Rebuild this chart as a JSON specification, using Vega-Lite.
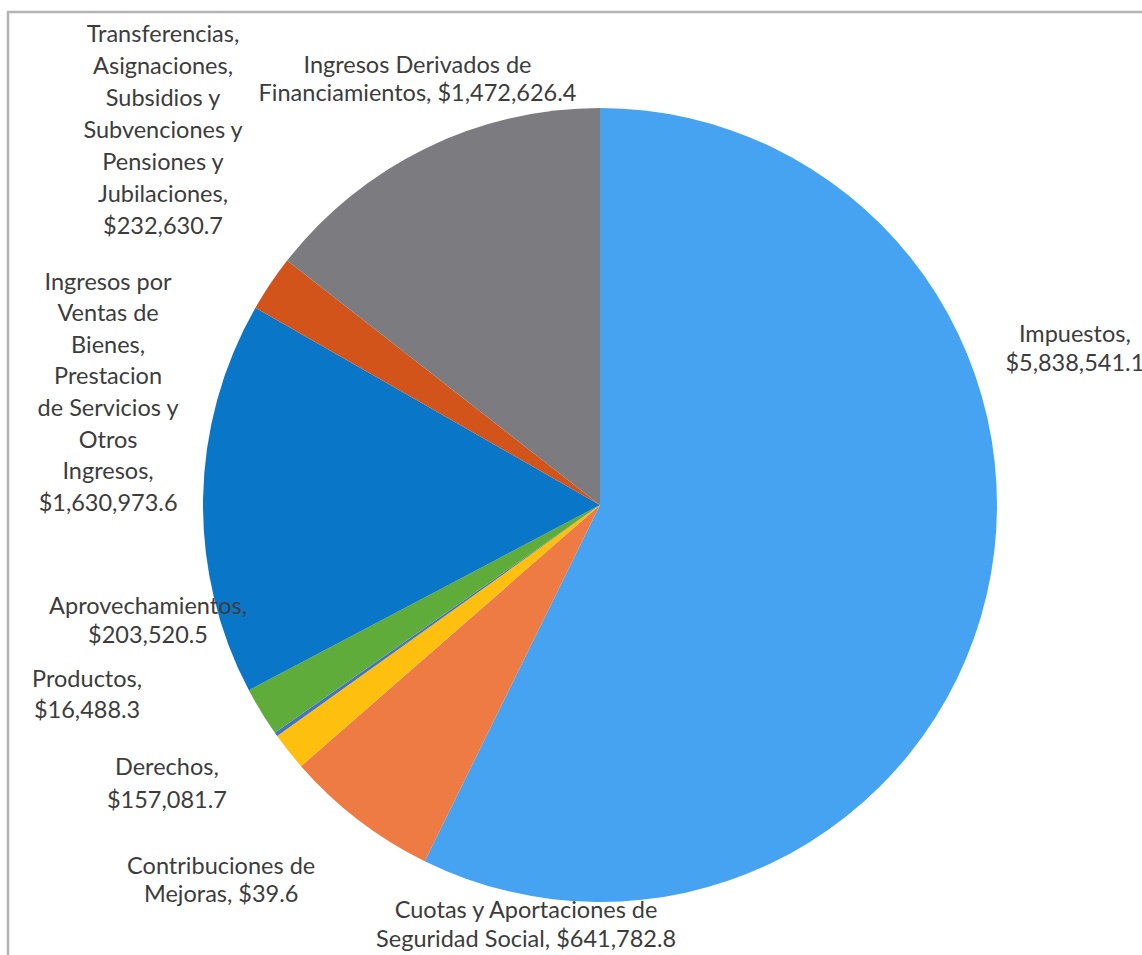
{
  "$schema": "https://vega.github.io/schema/vega-lite/v6.json",
  "autosize": "none",
  "width": 1184,
  "height": 986,
  "padding": {"left": 8, "top": 12, "right": 0, "bottom": 0},
  "background": "white",
  "view": {"stroke": "#b4b4b4", "strokeWidth": 2.5},
  "config": {
    "view": {"stroke": "#b4b4b4", "strokeWidth": 2.5},
    "text": {"font": "Lato", "fontSize": 23.5, "lineHeight": 29, "lineBreak": "\n", "fill": "#3c3c3c", "align": "center", "baseline": "middle"}
  },
  "data": {
    "values": [
      {"n": 1, "cat": "Impuestos", "value": 5838541.1, "label": "Impuestos,\n$5,838,541.1"},
      {"n": 2, "cat": "Cuotas y Aportaciones de Seguridad Social", "value": 641782.8, "label": "Cuotas y Aportaciones de\nSeguridad Social, $641,782.8"},
      {"n": 3, "cat": "Contribuciones de Mejoras", "value": 39.6, "label": "Contribuciones de\nMejoras, $39.6"},
      {"n": 4, "cat": "Derechos", "value": 157081.7, "label": "Derechos,\n$157,081.7"},
      {"n": 5, "cat": "Productos", "value": 16488.3, "label": "Productos,\n$16,488.3"},
      {"n": 6, "cat": "Aprovechamientos", "value": 203520.5, "label": "Aprovechamientos,\n$203,520.5"},
      {"n": 7, "cat": "Ingresos por Ventas de Bienes, Prestacion de Servicios y Otros Ingresos", "value": 1630973.6, "label": "Ingresos por\nVentas de\nBienes,\nPrestacion\nde Servicios y\nOtros\nIngresos,\n$1,630,973.6"},
      {"n": 8, "cat": "Transferencias, Asignaciones, Subsidios y Subvenciones y Pensiones y Jubilaciones", "value": 232630.7, "label": "Transferencias,\nAsignaciones,\nSubsidios y\nSubvenciones y\nPensiones y\nJubilaciones,\n$232,630.7"},
      {"n": 9, "cat": "Ingresos Derivados de Financiamientos", "value": 1472626.4, "label": "Ingresos Derivados de\nFinanciamientos, $1,472,626.4"}
    ]
  },
  "encoding": {
    "theta": {"field": "value", "type": "quantitative", "stack": true},
    "order": {"field": "n", "type": "quantitative", "sort": "ascending"},
    "detail": {"field": "cat", "type": "nominal"}
  },
  "layer": [
    {
      "mark": {"type": "arc", "outerRadius": 397, "stroke": null},
      "encoding": {
        "color": {
          "field": "cat", "type": "nominal", "legend": null,
          "scale": {
            "domain": [
              "Impuestos",
              "Cuotas y Aportaciones de Seguridad Social",
              "Contribuciones de Mejoras",
              "Derechos",
              "Productos",
              "Aprovechamientos",
              "Ingresos por Ventas de Bienes, Prestacion de Servicios y Otros Ingresos",
              "Transferencias, Asignaciones, Subsidios y Subvenciones y Pensiones y Jubilaciones",
              "Ingresos Derivados de Financiamientos"
            ],
            "range": ["#45A3F2", "#EE7B43", "#A5A5A5", "#FFBF0F", "#4472C4", "#60AC3B", "#0A76C8", "#D2541A", "#7B7B80"]
          }
        }
      }
    },
    {
      "mark": {"type": "text", "radius": 430, "dx": 56, "dy": -267, "lineHeight": 29},
      "encoding": {"text": {"condition": {"test": "datum.n === 1", "field": "label"}, "value": ""}}
    },
    {
      "mark": {"type": "text", "radius": 430, "dx": 188, "dy": 65, "lineHeight": 29},
      "encoding": {"text": {"condition": {"test": "datum.n === 2", "field": "label"}, "value": ""}}
    },
    {
      "mark": {"type": "text", "radius": 430, "dx": -55, "dy": 79, "lineHeight": 28},
      "encoding": {"text": {"condition": {"test": "datum.n === 3", "field": "label"}, "value": ""}}
    },
    {
      "mark": {"type": "text", "radius": 430, "dx": -96, "dy": -4, "lineHeight": 33},
      "encoding": {"text": {"condition": {"test": "datum.n === 4", "field": "label"}, "value": ""}}
    },
    {
      "mark": {"type": "text", "radius": 430, "dx": -162, "dy": -73, "lineHeight": 31},
      "encoding": {"text": {"condition": {"test": "datum.n === 5", "field": "label"}, "value": ""}}
    },
    {
      "mark": {"type": "text", "radius": 430, "dx": -85, "dy": -122, "lineHeight": 29},
      "encoding": {"text": {"condition": {"test": "datum.n === 6", "field": "label"}, "value": ""}}
    },
    {
      "mark": {"type": "text", "radius": 430, "dx": -62, "dy": -215, "lineHeight": 31.6},
      "encoding": {"text": {"condition": {"test": "datum.n === 7", "field": "label"}, "value": ""}}
    },
    {
      "mark": {"type": "text", "radius": 430, "dx": -80, "dy": -230, "lineHeight": 32},
      "encoding": {"text": {"condition": {"test": "datum.n === 8", "field": "label"}, "value": ""}}
    },
    {
      "mark": {"type": "text", "radius": 430, "dx": 6, "dy": -53, "lineHeight": 28},
      "encoding": {"text": {"condition": {"test": "datum.n === 9", "field": "label"}, "value": ""}}
    }
  ]
}
